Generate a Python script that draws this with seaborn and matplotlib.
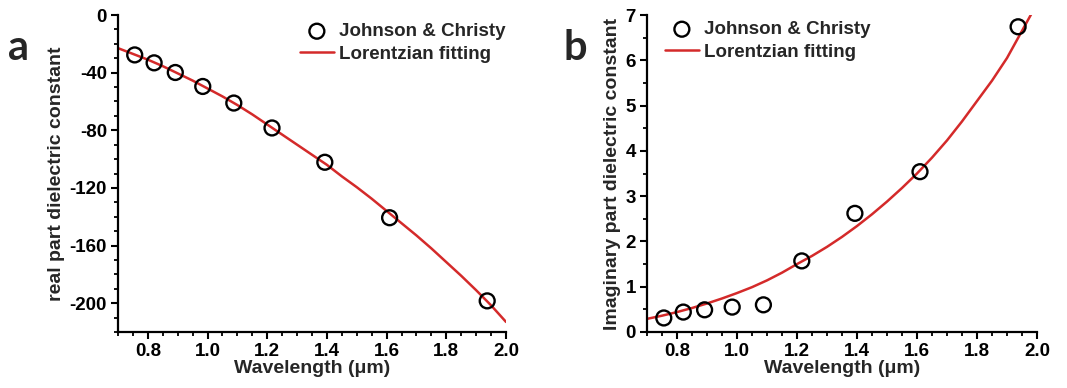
import matplotlib
matplotlib.use("Agg")
import matplotlib.pyplot as plt
import seaborn as sns
import pandas as pd
from matplotlib.ticker import MultipleLocator

# ---- data ----
wl_jc = [0.756, 0.821, 0.892, 0.984, 1.088, 1.216, 1.393, 1.610, 1.937]
eps_real_jc = [-27.7, -33.2, -39.9, -49.6, -61.1, -78.4, -102.2, -140.7, -198.4]
eps_imag_jc = [0.31, 0.44, 0.49, 0.55, 0.60, 1.57, 2.62, 3.54, 6.74]

wl_fit = [0.70, 0.75, 0.80, 0.85, 0.90, 0.95, 1.00, 1.05, 1.10, 1.15, 1.20, 1.25,
          1.30, 1.35, 1.40, 1.45, 1.50, 1.55, 1.60, 1.65, 1.70, 1.75, 1.80, 1.85,
          1.90, 1.95, 2.00]
eps_real_fit = [-23.0, -27.0, -31.0, -35.5, -40.5, -45.5, -51.0, -56.5, -62.5, -69.0,
                -76.0, -83.0, -90.0, -97.0, -104.0, -112.0, -119.5, -127.5, -136.0,
                -144.5, -153.0, -162.0, -171.5, -181.0, -191.0, -201.5, -213.0]
eps_imag_fit = [0.29, 0.36, 0.44, 0.53, 0.63, 0.74, 0.86, 0.99, 1.14, 1.31, 1.50, 1.68,
                1.88, 2.10, 2.34, 2.60, 2.88, 3.18, 3.50, 3.85, 4.23, 4.65, 5.10, 5.55,
                6.05, 6.65, 7.25]

x_label = "Wavelength (μm)"
y_label_a = "real part dielectric constant"
y_label_b = "Imaginary part dielectric constant"
legend_pts = "Johnson & Christy"
legend_fit = "Lorentzian fitting"

sns.set_style("ticks")
plt.rcParams["font.family"] = ["Liberation Sans", "DejaVu Sans"]
plt.rcParams["font.weight"] = "bold"
plt.rcParams["axes.unicode_minus"] = False

W, H = 1067, 388
fig = plt.figure(figsize=(W / 100, H / 100), dpi=100)

red = "#d42a2a"

df_jc = pd.DataFrame({"wl": wl_jc, "re": eps_real_jc, "im": eps_imag_jc})
df_fit = pd.DataFrame({"wl": wl_fit, "re": eps_real_fit, "im": eps_imag_fit})

panels = [
    dict(rect=(118 / W, 1 - 332 / H, 388 / W, 317 / H), col="re", ylim=(-220, 0),
         major=40, minor=10, ylabel=y_label_a, letter="a", letter_xy=(8 / W, 1 - 60 / H),
         leg_xy=(300 / W, 1 - 23 / H)),
    dict(rect=(647 / W, 1 - 332 / H, 390 / W, 317 / H), col="im", ylim=(0, 7),
         major=1, minor=0.5, ylabel=y_label_b, letter="b", letter_xy=(563 / W, 1 - 60 / H),
         leg_xy=(665 / W, 1 - 21 / H)),
]

for p in panels:
    ax = fig.add_axes(p["rect"])
    sns.lineplot(data=df_fit, x="wl", y=p["col"], ax=ax, color=red, linewidth=1.8,
                 label=legend_fit, zorder=2)
    sns.scatterplot(data=df_jc, x="wl", y=p["col"], ax=ax, marker="o", s=115,
                    facecolor="none", edgecolor="black", linewidth=1.7,
                    label=legend_pts, zorder=3)
    ax.set_xlim(0.7, 2.0)
    ax.set_ylim(*p["ylim"])
    ax.xaxis.set_major_locator(MultipleLocator(0.2))
    ax.xaxis.set_minor_locator(MultipleLocator(0.05))
    ax.yaxis.set_major_locator(MultipleLocator(p["major"]))
    ax.yaxis.set_minor_locator(MultipleLocator(p["minor"]))
    ax.set_xticks([0.8, 1.0, 1.2, 1.4, 1.6, 1.8, 2.0])
    ax.set_xticklabels(["0.8", "1.0", "1.2", "1.4", "1.6", "1.8", "2.0"])
    sns.despine(ax=ax)
    for s in ["left", "bottom"]:
        ax.spines[s].set_linewidth(1.6)
        ax.spines[s].set_color("black")
    ax.tick_params(which="major", direction="out", length=5, width=1.5,
                   labelsize=13.5, colors="black", pad=3)
    ax.tick_params(which="minor", direction="out", length=3, width=1.3, colors="black")
    for t in ax.get_xticklabels() + ax.get_yticklabels():
        t.set_fontweight("bold")
    ax.set_xlabel(x_label, fontsize=14, fontweight="bold", labelpad=0)
    ax.set_ylabel(p["ylabel"], fontsize=14, fontweight="bold", labelpad=3)

    h, l = ax.get_legend_handles_labels()
    order = [l.index(legend_pts), l.index(legend_fit)]
    ax.legend([h[i] for i in order], [l[i] for i in order], loc="upper left",
              bbox_to_anchor=p["leg_xy"], bbox_transform=fig.transFigure,
              frameon=False, borderpad=0, borderaxespad=0, handlelength=1.8,
              handletextpad=0.3, labelspacing=0.3,
              prop=dict(family=["Liberation Sans", "DejaVu Sans"], weight="bold", size=13.5))

    fig.text(p["letter_xy"][0], p["letter_xy"][1], p["letter"], fontsize=30,
             fontweight="bold", family=["Lato", "DejaVu Sans"], ha="left", va="baseline")

fig.savefig("out.png", dpi=100)
